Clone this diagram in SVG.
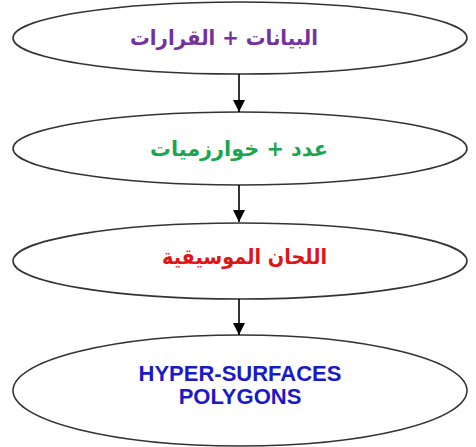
<svg xmlns="http://www.w3.org/2000/svg" width="476" height="447" viewBox="0 0 476 447">
<defs>
<marker id="ah" viewBox="0 0 12 12" refX="12" refY="6" markerWidth="12" markerHeight="12" markerUnits="userSpaceOnUse" orient="auto">
<path d="M0,0 L12,6 L0,12 Z" fill="#000"/>
</marker>
</defs>
<style>
.node ellipse{fill:#fff;stroke:#333;stroke-width:1.6}
.ar{font-family:"DejaVu Sans","Liberation Sans",sans-serif;font-weight:bold;font-size:21px;text-anchor:middle}
.en{font-family:"Liberation Sans",Arial,sans-serif;font-weight:bold;font-size:22px;text-anchor:middle;fill:#1a1ac8}
.conn line{stroke:#000;stroke-width:1.6;marker-end:url(#ah)}
</style>
<rect width="476" height="447" fill="#fff"/>
<g id="n1" class="node">
<ellipse cx="240" cy="38" rx="227" ry="36"/>
<text class="ar" x="224" y="45" fill="#7232a0" direction="rtl" textLength="188" lengthAdjust="spacingAndGlyphs">البيانات + القرارات</text>
</g>
<g id="n2" class="node">
<ellipse cx="240" cy="148.5" rx="227" ry="36.5"/>
<text class="ar" x="239" y="156" fill="#1aa64e" direction="rtl" textLength="178" lengthAdjust="spacingAndGlyphs">عدد + خوارزميات</text>
</g>
<g id="n3" class="node">
<ellipse cx="240" cy="261" rx="227" ry="38"/>
<text class="ar" x="244.5" y="264" fill="#e01414" direction="rtl" textLength="165" lengthAdjust="spacingAndGlyphs">اللحان الموسيقية</text>
</g>
<g id="n4" class="node">
<ellipse cx="240" cy="390.5" rx="227" ry="55.5"/>
<text class="en" x="240" y="381">HYPER-SURFACES</text>
<text class="en" x="240" y="404">POLYGONS</text>
</g>
<g id="connectors" class="conn">
<line x1="239" y1="74" x2="239" y2="112"/>
<line x1="239" y1="185" x2="239" y2="222"/>
<line x1="239" y1="299" x2="239" y2="335"/>
</g>
</svg>
